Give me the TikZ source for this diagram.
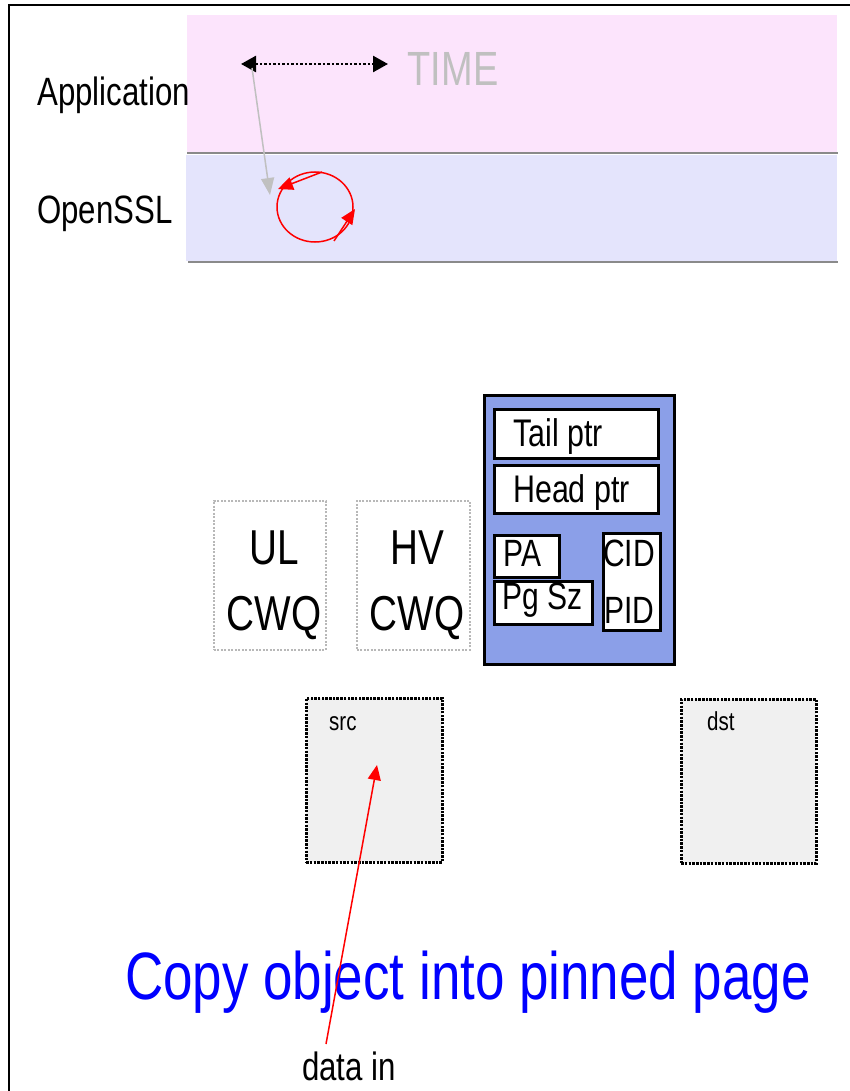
\documentclass[tikz,border=0pt]{standalone}
\usepackage{fontspec}
\setmainfont{Liberation Sans}
\newfontfamily\narrowsans[FakeStretch=0.79]{Liberation Sans}
\usetikzlibrary{arrows.meta}
\definecolor{apppink}{HTML}{FCE4FC}
\definecolor{sslblue}{HTML}{E4E4FC}
\definecolor{queueblue}{HTML}{8B9FE8}
\definecolor{pagegray}{HTML}{F0F0F0}
\definecolor{timegray}{HTML}{C0C0C0}
\definecolor{rulegray}{HTML}{8A8A8A}
\definecolor{cwqgray}{HTML}{B8B8B8}
\newcommand{\ptsize}[1]{\fontsize{#1}{#1}\selectfont}

\begin{document}
\begin{tikzpicture}[x=1pt,y=-1pt,
  txt/.style={inner sep=0pt, anchor=base west, font=\narrowsans},
  ctxt/.style={inner sep=0pt, anchor=base, font=\narrowsans},
  band/.style={draw=none, inner sep=0pt, anchor=north west},
  cwqbox/.style={draw=cwqgray, line width=1.5pt, dash pattern=on 2pt off 1.5pt,
                 inner sep=0pt, anchor=north west, fill=white},
  queuebox/.style={draw=black, line width=3pt, fill=queueblue, inner sep=0pt,
                   anchor=north west},
  field/.style={draw=black, line width=3pt, fill=white, inner sep=0pt,
                anchor=north west},
  pagebox/.style={draw=black, line width=2.5pt, dash pattern=on 2.5pt off 1.2pt,
                  fill=pagegray, inner sep=0pt, anchor=north west},
  redarrow/.style={draw=red, line width=1.5pt,
                   -{Triangle[length=15pt,width=13pt]}},
]
\useasboundingbox (0,0) rectangle (850,1091);

% outer frame (open to the right and bottom)
\draw[line width=2pt] (850,5) -- (9,5) -- (9,1091);

% layer bands
\node[band, fill=apppink, minimum width=650pt, minimum height=137pt] (appband) at (187,15) {};
\node[band, fill=sslblue, minimum width=651pt, minimum height=106pt] (sslband) at (186,155) {};
\draw[rulegray, line width=2pt] (187,153) -- (838,153);
\draw[rulegray, line width=2pt] (188,262) -- (838,262);

\node[txt] (applbl) at (37,106) {\ptsize{39.5}Application};
\node[txt] (ssllbl) at (37,224) {\ptsize{39.5}OpenSSL};
\node[ctxt, text=timegray] (timelbl) at (453,86) {\ptsize{48}TIME};

% time span arrow and hand-off into OpenSSL
\coordinate (tleft) at (241,64);
\coordinate (tright) at (388,64);
\draw[line width=2.5pt, dotted, {Triangle[length=15pt,width=16pt]}-{Triangle[length=15pt,width=16pt]}]
  (tleft) -- (tright);
\coordinate (handoff) at (252,68);
\coordinate (loopentry) at (270,195);
\draw[timegray, line width=1.5pt, -{Triangle[length=17pt,width=13pt]}] (handoff) -- (loopentry);

% OpenSSL processing loop
\draw[red, line width=1.5pt] (315,207) ellipse [x radius=38pt, y radius=35pt];
\coordinate (looptop) at (322,172);
\coordinate (loopleft) at (278,189);
\coordinate (loopbot) at (334,241);
\coordinate (loopright) at (355,209);
\draw[redarrow] (looptop) -- (loopleft);
\draw[redarrow] (loopbot) -- (loopright);

% work queues
\node[cwqbox, minimum width=112pt, minimum height=149pt] (ulbox) at (213,500) {};
\node[cwqbox, minimum width=113pt, minimum height=149pt] (hvbox) at (356,500) {};
\node[ctxt] (ullbl) at (274,564) {\ptsize{49}UL};
\node[ctxt] (ulcwq) at (274,630) {\ptsize{49}CWQ};
\node[ctxt] (hvlbl) at (417,564) {\ptsize{49}HV};
\node[ctxt] (hvcwq) at (417,630) {\ptsize{49}CWQ};

% queue descriptor
\node[queuebox, minimum width=190pt, minimum height=269pt] (queue) at (483,394) {};
\node[field, minimum width=164pt, minimum height=49pt] (tailbox) at (493,408) {};
\node[field, minimum width=164pt, minimum height=48pt] (headbox) at (493,464) {};
\node[field, minimum width=65pt, minimum height=42pt] (pabox) at (493,534) {};
\node[field, minimum width=98pt, minimum height=43pt] (pgbox) at (493,580) {};
\node[field, minimum width=57pt, minimum height=97pt] (cidbox) at (602,532) {};
\node[txt] (taillbl) at (513,446) {\ptsize{38.5}Tail ptr};
\node[txt] (headlbl) at (513,502) {\ptsize{38.5}Head ptr};
\node[txt] (palbl) at (503,566) {\ptsize{38}PA};
\node[txt] (pglbl) at (502,609) {\ptsize{38}Pg Sz};
\node[txt] (cidlbl) at (603,566) {\ptsize{38}CID};
\node[txt] (pidlbl) at (604,623) {\ptsize{38}PID};

% pinned pages
\node[pagebox, minimum width=136pt, minimum height=164pt] (srcbox) at (305,697) {};
\node[pagebox, minimum width=135pt, minimum height=164pt] (dstbox) at (680,698) {};
\node[txt] (srclbl) at (329,730) {\ptsize{26}src};
\node[txt] (dstlbl) at (707,730) {\ptsize{26}dst};

\node[ctxt, text=blue] (copylbl) at (468,999) {\ptsize{67}Copy object into pinned page};

\node[ctxt] (datain) at (349,1080) {\ptsize{39.5}data in};
\coordinate (datafoot) at (326,1044);
\coordinate (datatip) at (377,765);
\draw[redarrow] (datafoot) -- (datatip);
\end{tikzpicture}
\end{document}
